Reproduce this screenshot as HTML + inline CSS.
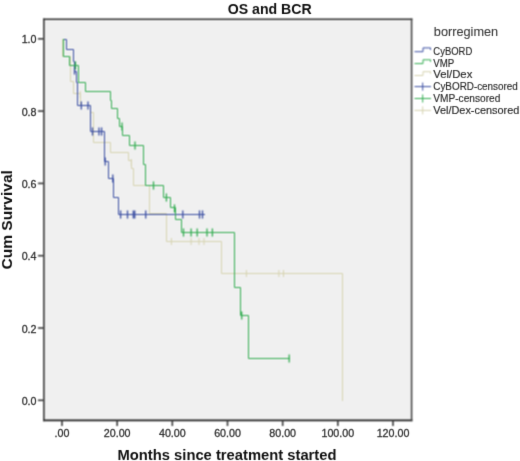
<!DOCTYPE html>
<html><head><meta charset="utf-8"><style>
html,body{margin:0;padding:0;background:#fff;}
body{width:520px;height:461px;overflow:hidden;}
svg{display:block;}
text{font-family:"Liberation Sans",sans-serif;}
</style></head><body>
<svg width="520" height="461" viewBox="0 0 520 461">
<defs><filter id="t" filterUnits="userSpaceOnUse" x="0" y="0" width="520" height="461" color-interpolation-filters="sRGB"><feConvolveMatrix order="3" kernelMatrix="0 1 0 1 8 1 0 1 0" divisor="12" edgeMode="duplicate"/></filter><filter id="k" filterUnits="userSpaceOnUse" x="0" y="0" width="520" height="461" color-interpolation-filters="sRGB"><feConvolveMatrix order="3" kernelMatrix="1 2 1 2 4 2 1 2 1" divisor="16" edgeMode="duplicate" preserveAlpha="true"/></filter></defs>
<g filter="url(#k)">
<rect x="0" y="0" width="520" height="461" fill="#fff"/>
<rect x="43.9" y="19.1" width="367.7" height="401.3" fill="#f0f0f0"/>
<g fill="none" stroke-linejoin="miter" stroke-linecap="square">
<path d="M 62.5,39.5 V 56.5 H 70.5 V 81.5 H 73.5 V 93.5 H 80.5 V 105.5 H 90.5 V 112.5 H 93.5 V 142.5 H 110.5 V 152.5 H 128.5 V 160.5 H 131.5 V 168.5 H 133.5 V 185.5 H 149.5 V 213.5 H 166.5 V 241.5 H 221.5 V 273.5 H 342.5 V 400.5" stroke="rgb(214,211,176)" stroke-width="1.0"/>
<path d="M80.2,91.5 V97.5" stroke="rgb(214,211,176)" stroke-width="1.0"/><path d="M131.3,159.5 V165.5" stroke="rgb(214,211,176)" stroke-width="1.0"/><path d="M171.4,238.5 V244.5" stroke="rgb(214,211,176)" stroke-width="1.0"/><path d="M191.1,238.5 V244.5" stroke="rgb(214,211,176)" stroke-width="1.0"/><path d="M199,238.5 V244.5" stroke="rgb(214,211,176)" stroke-width="1.0"/><path d="M204,238.5 V244.5" stroke="rgb(214,211,176)" stroke-width="1.0"/><path d="M246.4,270.5 V276.5" stroke="rgb(214,211,176)" stroke-width="1.0"/><path d="M278.9,270.5 V276.5" stroke="rgb(214,211,176)" stroke-width="1.0"/><path d="M283.5,270.5 V276.5" stroke="rgb(214,211,176)" stroke-width="1.0"/>
<path d="M 64.5,39.5 H 66.5 V 49.5 H 73.5 V 61.5 H 74.5 V 71.5 H 76.5 V 82.5 H 77.5 V 105.5 H 90.5 V 131.5 H 104.5 V 161.5 H 108.5 V 178.5 H 113.5 V 197.5 H 118.5 V 214.5 H 204.5" stroke="rgb(58,78,162)" stroke-width="1.0"/>
<path d="M74.5,67.1 V73.9" stroke="rgb(58,78,162)" stroke-width="1.3"/><path d="M81.3,102.1 V108.9" stroke="rgb(58,78,162)" stroke-width="1.3"/><path d="M88,102.1 V108.9" stroke="rgb(58,78,162)" stroke-width="1.3"/><path d="M92.5,128.1 V134.9" stroke="rgb(58,78,162)" stroke-width="1.3"/><path d="M99,128.1 V134.9" stroke="rgb(58,78,162)" stroke-width="1.3"/><path d="M101.6,128.1 V134.9" stroke="rgb(58,78,162)" stroke-width="1.3"/><path d="M105.2,158.1 V164.9" stroke="rgb(58,78,162)" stroke-width="1.3"/><path d="M112.8,175.1 V181.9" stroke="rgb(58,78,162)" stroke-width="1.3"/><path d="M120.6,211.1 V217.9" stroke="rgb(58,78,162)" stroke-width="1.3"/><path d="M127.5,211.1 V217.9" stroke="rgb(58,78,162)" stroke-width="1.3"/><path d="M133.3,211.1 V217.9" stroke="rgb(58,78,162)" stroke-width="1.3"/><path d="M134.8,211.1 V217.9" stroke="rgb(58,78,162)" stroke-width="1.3"/><path d="M145.7,211.1 V217.9" stroke="rgb(58,78,162)" stroke-width="1.3"/><path d="M182.8,211.1 V217.9" stroke="rgb(58,78,162)" stroke-width="1.3"/><path d="M199.5,211.1 V217.9" stroke="rgb(58,78,162)" stroke-width="1.3"/><path d="M202.5,211.1 V217.9" stroke="rgb(58,78,162)" stroke-width="1.3"/>
<path d="M 63.5,39.5 V 56.5 H 69.5 V 65.5 H 78.5 V 82.5 H 85.5 V 91.5 H 110.5 V 100.5 H 111.5 V 108.5 H 117.5 V 118.5 H 119.5 V 126.5 H 122.5 V 135.5 H 129.5 V 145.5 H 143.5 V 164.5 H 145.5 V 185.5 H 163.5 V 197.5 H 170.5 V 207.5 H 175.5 V 219.5 H 181.5 V 232.5 H 234.5 V 287.5 H 240.5 V 315.5 H 248.5 V 358.5 H 289.5" stroke="rgb(50,172,80)" stroke-width="1.0"/>
<path d="M75.5,62.1 V68.9" stroke="rgb(50,172,80)" stroke-width="1.3"/><path d="M122,123.1 V129.9" stroke="rgb(50,172,80)" stroke-width="1.3"/><path d="M135,142.1 V148.9" stroke="rgb(50,172,80)" stroke-width="1.3"/><path d="M153.5,182.1 V188.9" stroke="rgb(50,172,80)" stroke-width="1.3"/><path d="M174.5,205.1 V211.9" stroke="rgb(50,172,80)" stroke-width="1.3"/><path d="M183.5,229.1 V235.9" stroke="rgb(50,172,80)" stroke-width="1.3"/><path d="M191.1,229.1 V235.9" stroke="rgb(50,172,80)" stroke-width="1.3"/><path d="M197.2,229.1 V235.9" stroke="rgb(50,172,80)" stroke-width="1.3"/><path d="M207,229.1 V235.9" stroke="rgb(50,172,80)" stroke-width="1.3"/><path d="M212.4,229.1 V235.9" stroke="rgb(50,172,80)" stroke-width="1.3"/><path d="M166.4,194.1 V200.9" stroke="rgb(50,172,80)" stroke-width="1.3"/><path d="M241.7,312.1 V318.9" stroke="rgb(50,172,80)" stroke-width="1.3"/><path d="M289.2,355.1 V361.9" stroke="rgb(50,172,80)" stroke-width="1.3"/>
</g>
<path d="M43.1,19.2 H412.4" stroke="#303030" stroke-width="1.6"/>
<path d="M43.1,420.4 H412.4" stroke="#202020" stroke-width="1.6"/>
<path d="M43.9,18.4 V421.2" stroke="#383838" stroke-width="1.6"/>
<path d="M411.6,18.4 V421.2" stroke="#404040" stroke-width="1.5"/>
<g stroke="#3a3a3a" stroke-width="1.6"><line x1="62.00" y1="420.5" x2="62.00" y2="426" /><line x1="117.17" y1="420.5" x2="117.17" y2="426" /><line x1="172.33" y1="420.5" x2="172.33" y2="426" /><line x1="227.50" y1="420.5" x2="227.50" y2="426" /><line x1="282.67" y1="420.5" x2="282.67" y2="426" /><line x1="337.83" y1="420.5" x2="337.83" y2="426" /><line x1="393.00" y1="420.5" x2="393.00" y2="426" /><line x1="38" y1="400.30" x2="43.5" y2="400.30" /><line x1="38" y1="328.00" x2="43.5" y2="328.00" /><line x1="38" y1="255.70" x2="43.5" y2="255.70" /><line x1="38" y1="183.40" x2="43.5" y2="183.40" /><line x1="38" y1="111.10" x2="43.5" y2="111.10" /><line x1="38" y1="38.80" x2="43.5" y2="38.80" /></g>
<path d="M414.5,51.70 H423 V47.90 H430.5 V49.90" fill="none" stroke="rgb(58,78,162)" stroke-width="1.0"/><path d="M414.5,63.60 H423 V59.80 H430.5 V61.80" fill="none" stroke="rgb(50,172,80)" stroke-width="1.0"/><path d="M414.5,75.50 H423 V71.70 H430.5 V73.70" fill="none" stroke="rgb(214,211,176)" stroke-width="1.0"/><path d="M414.5,86.60 H431 M422.7,82.60 V90.60" fill="none" stroke="rgb(58,78,162)" stroke-width="1.0"/><path d="M414.5,98.50 H431 M422.7,94.50 V102.50" fill="none" stroke="rgb(50,172,80)" stroke-width="1.0"/><path d="M414.5,110.40 H431 M422.7,106.40 V114.40" fill="none" stroke="rgb(214,211,176)" stroke-width="1.0"/>
</g>
<g filter="url(#t)">
<g font-size="10.7" fill="#333" stroke="#333" stroke-width="0.3"><text x="62.00" y="437.1" text-anchor="middle">.00</text><text x="117.17" y="437.1" text-anchor="middle">20.00</text><text x="172.33" y="437.1" text-anchor="middle">40.00</text><text x="227.50" y="437.1" text-anchor="middle">60.00</text><text x="282.67" y="437.1" text-anchor="middle">80.00</text><text x="337.83" y="437.1" text-anchor="middle">100.00</text><text x="393.00" y="437.1" text-anchor="middle">120.00</text><text x="36.5" y="404.80" text-anchor="end">0.0</text><text x="36.5" y="332.50" text-anchor="end">0.2</text><text x="36.5" y="260.20" text-anchor="end">0.4</text><text x="36.5" y="187.90" text-anchor="end">0.6</text><text x="36.5" y="115.60" text-anchor="end">0.8</text><text x="36.5" y="43.30" text-anchor="end">1.0</text></g>
<text x="269.7" y="13.6" text-anchor="middle" font-size="14.5" font-weight="bold" fill="#111" textLength="84" lengthAdjust="spacingAndGlyphs">OS and BCR</text>
<text x="227" y="459.8" text-anchor="middle" font-size="15" font-weight="bold" fill="#111" textLength="219" lengthAdjust="spacingAndGlyphs">Months since treatment started</text>
<text transform="translate(12,219.8) rotate(-90)" text-anchor="middle" font-size="14.7" font-weight="bold" fill="#111" textLength="99.5" lengthAdjust="spacingAndGlyphs">Cum Survival</text>
<text x="433.8" y="36.2" font-size="12.5" fill="#3a3a3a" stroke="#3a3a3a" stroke-width="0.1" textLength="64.4" lengthAdjust="spacingAndGlyphs">borregimen</text>
<text x="433.3" y="54.60" font-size="10.3" fill="#2a2a2a" stroke="#2a2a2a" stroke-width="0.15" textLength="39" lengthAdjust="spacingAndGlyphs">CyBORD</text><text x="433.3" y="66.50" font-size="10.3" fill="#2a2a2a" stroke="#2a2a2a" stroke-width="0.15" textLength="21" lengthAdjust="spacingAndGlyphs">VMP</text><text x="433.3" y="78.40" font-size="10.3" fill="#2a2a2a" stroke="#2a2a2a" stroke-width="0.15" textLength="39" lengthAdjust="spacingAndGlyphs">Vel/Dex</text><text x="433.3" y="90.30" font-size="10.3" fill="#2a2a2a" stroke="#2a2a2a" stroke-width="0.15" textLength="84.5" lengthAdjust="spacingAndGlyphs">CyBORD-censored</text><text x="433.3" y="102.20" font-size="10.3" fill="#2a2a2a" stroke="#2a2a2a" stroke-width="0.15" textLength="67" lengthAdjust="spacingAndGlyphs">VMP-censored</text><text x="433.3" y="114.10" font-size="10.3" fill="#2a2a2a" stroke="#2a2a2a" stroke-width="0.15" textLength="86" lengthAdjust="spacingAndGlyphs">Vel/Dex-censored</text>
</g>
</svg>
</body></html>
